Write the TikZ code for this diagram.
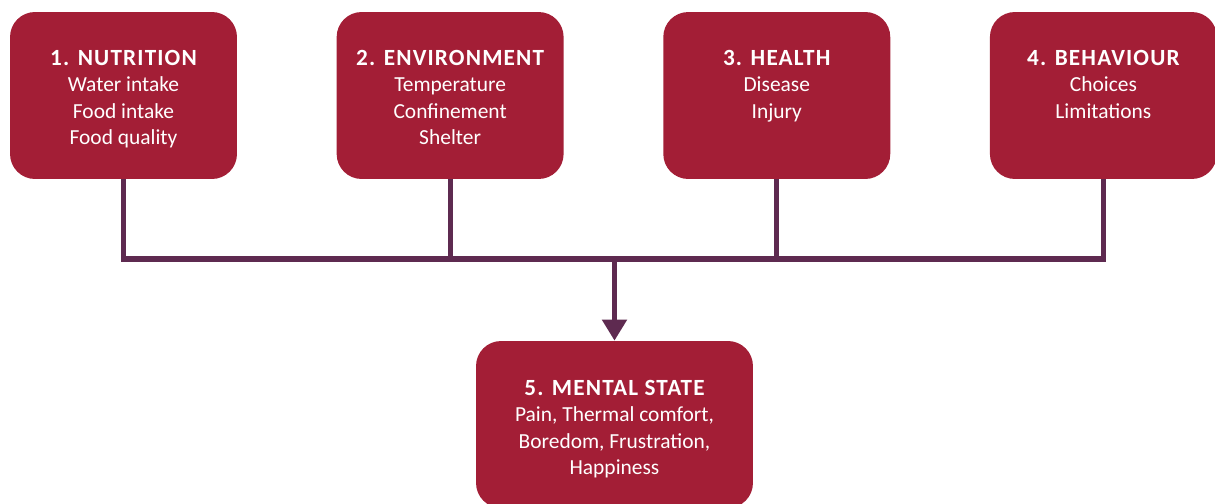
\documentclass[tikz,border=0pt]{standalone}
\usepackage{fontspec}
\setmainfont{Carlito}
\newfontfamily\titulofuente{Carlito}[LetterSpace=5]
\newcommand{\titulo}[1]{{\titulofuente\bfseries\fontsize{13.2}{15.1}\selectfont #1}}
\usetikzlibrary{positioning}
\usetikzlibrary{arrows.meta}
\definecolor{granate}{RGB}{163,30,54}
\definecolor{morado}{RGB}{94,42,80}
\tikzset{
 dominio/.style={
 rectangle,
 rounded corners=0.5cm,
 fill=granate,
 minimum width=4.54cm,
 minimum height=3.34cm,
 inner sep=0pt},
 texto/.style={
 anchor=north,
 yshift=-0.76cm,
 inner sep=0pt,
 text=white,
 align=center,
 font=\fontsize{12.2}{15.1}\selectfont},
 conector/.style={
 draw=morado,
 line width=2.85pt}
}

\begin{document}
\begin{tikzpicture}[x=0.02cm,y=-0.02cm,node distance=1.98cm]
 \useasboundingbox (0,0) rectangle (1215,504);

 \node[dominio, label={[texto]north:{\titulo{1. NUTRITION}\\Water intake\\Food intake\\Food quality}}] (nutr) at (123.5,95.5) {};
 \node[dominio, right = of nutr, label={[texto]north:{\titulo{2. ENVIRONMENT}\\Temperature\\Confinement\\Shelter}}] (env) {};
 \node[dominio, right = of env, label={[texto]north:{\titulo{3. HEALTH}\\Disease\\Injury}}] (salud) {};
 \node[dominio, right = of salud, label={[texto]north:{\titulo{4. BEHAVIOUR}\\Choices\\Limitations}}] (conducta) {};

 \node[dominio, minimum width=5.54cm, label={[texto,yshift=-0.02cm]north:{\titulo{5. MENTAL STATE}\\Pain, Thermal comfort,\\Boredom, Frustration,\\Happiness}}] (mental) at (614.5,424.5) {};

 \coordinate (union) at (614.5,259);

 \draw[conector] (nutr.south) |- (union);
 \draw[conector] (env.south) |- (union);
 \draw[conector] (salud.south) |- (union);
 \draw[conector] (conducta.south) |- (union);
 \draw[conector,-{Triangle[length=12pt,width=13.7pt]}] (union) -- (mental);
\end{tikzpicture}
\end{document}
